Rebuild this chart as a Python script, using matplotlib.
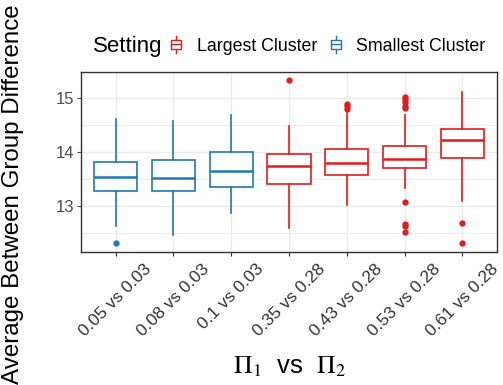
import matplotlib
matplotlib.use("Agg")
import matplotlib.pyplot as plt
from matplotlib.legend_handler import HandlerBase
from matplotlib.lines import Line2D
from matplotlib.patches import Rectangle
from matplotlib.offsetbox import HPacker

plt.rcParams['font.family'] = ['Liberation Sans', 'DejaVu Sans']
plt.rcParams['mathtext.fontset'] = 'stix'

categories = ["0.05 vs 0.03", "0.08 vs 0.03", "0.1 vs 0.03", "0.35 vs 0.28",
              "0.43 vs 0.28", "0.53 vs 0.28", "0.61 vs 0.28"]
setting = ["Smallest Cluster", "Smallest Cluster", "Smallest Cluster",
           "Largest Cluster", "Largest Cluster", "Largest Cluster", "Largest Cluster"]
q1 = [13.28, 13.28, 13.36, 13.41, 13.57, 13.715, 13.90]
med = [13.55, 13.52, 13.66, 13.75, 13.80, 13.88, 14.23]
q3 = [13.815, 13.85, 14.00, 13.975, 14.055, 14.12, 14.44]
whislo = [12.64, 12.46, 12.88, 12.60, 13.02, 13.33, 13.10]
whishi = [14.61, 14.58, 14.70, 14.49, 14.72, 14.70, 15.11]
outliers = [[12.32], [], [], [15.34], [14.89, 14.85, 14.80],
            [15.03, 14.98, 14.94, 14.86, 14.82, 13.08, 12.67, 12.64, 12.52],
            [12.69, 12.31]]

colors = {"Largest Cluster": "#E41A1C", "Smallest Cluster": "#1F78B4"}

fig = plt.figure(figsize=(5.03, 3.85), dpi=100)
ax = fig.add_axes([0.161, 0.3455, 0.827, 0.4675])

for i in range(len(categories)):
    c = colors[setting[i]]
    stats = [dict(med=med[i], q1=q1[i], q3=q3[i], whislo=whislo[i],
                  whishi=whishi[i], fliers=outliers[i])]
    ax.bxp(stats, positions=[i + 1], widths=0.75, patch_artist=True,
           showcaps=False,
           boxprops=dict(facecolor='white', edgecolor=c, linewidth=1.2),
           whiskerprops=dict(color=c, linewidth=1.2),
           medianprops=dict(color=c, linewidth=1.8),
           flierprops=dict(marker='o', markerfacecolor=c, markeredgecolor=c,
                           markersize=3.5, linestyle='none'))

ax.set_xlim(0.4, 7.6)
ax.set_ylim(12.15, 15.49)
ax.set_xticks(range(1, 8))
ax.set_xticklabels(categories, rotation=45, ha='center', va='top',
                   rotation_mode='default', fontsize=12.5, color='#4D4D4D')
ax.set_yticks([13, 14, 15])
ax.set_yticks([12.5, 13.5, 14.5], minor=True)
ax.tick_params(axis='y', labelsize=12, colors='#4D4D4D', length=3, pad=2)
ax.tick_params(axis='x', length=3, colors='#333333', pad=4)
ax.tick_params(axis='y', which='minor', length=0)
ax.grid(True, which='major', color='#EBEBEB', linewidth=1.0)
ax.grid(True, which='minor', axis='y', color='#EBEBEB', linewidth=0.6)
ax.set_axisbelow(True)
for s in ax.spines.values():
    s.set_color('#333333')
    s.set_linewidth(1.0)

fig.text(0.026, 0.496, "Average Between Group Difference", rotation=90,
         ha='center', va='center', fontsize=17.4)
fig.text(0.575, 0.047, r"$\Pi_1$  vs  $\Pi_2$", ha='center', va='center', fontsize=18.5)


class BoxHandler(HandlerBase):
    def create_artists(self, legend, orig_handle, xd, yd, w, h, fontsize, trans):
        c = orig_handle.get_color()
        cx = xd + w / 2
        bw = w * 0.75
        art = [
            Line2D([cx, cx], [yd - h * 0.15, yd + h * 1.15], color=c, lw=1.0, transform=trans),
            Rectangle((cx - bw / 2, yd + h * 0.15), bw, h * 0.7, facecolor='white',
                      edgecolor=c, lw=1.0, transform=trans),
            Line2D([cx - bw / 2, cx + bw / 2], [yd + h * 0.5, yd + h * 0.5], color=c,
                   lw=1.0, transform=trans),
        ]
        return art


handles = [Line2D([], [], color=colors["Largest Cluster"]),
           Line2D([], [], color=colors["Smallest Cluster"])]
leg = fig.legend(handles, ["Largest Cluster", "Smallest Cluster"], title="Setting",
                 handler_map={Line2D: BoxHandler()}, loc='center',
                 bbox_to_anchor=(0.575, 0.88), ncol=2, frameon=False,
                 fontsize=12.8, title_fontsize=16, handlelength=0.75,
                 handletextpad=0.8, columnspacing=0.66)
title_box = leg._legend_title_box
handle_box = leg._legend_handle_box
leg._legend_box._children = [HPacker(pad=0, sep=5, align='center',
                                     children=[title_box, handle_box])]

fig.savefig("out.png", dpi=100)
